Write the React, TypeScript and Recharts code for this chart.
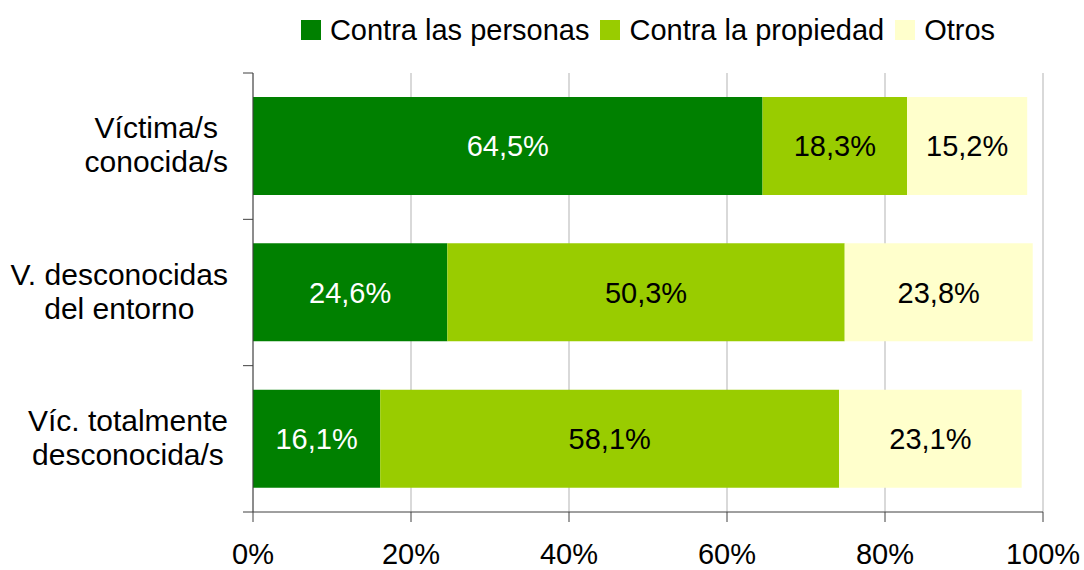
import React from 'react';
import { BarChart, Bar, XAxis, YAxis, CartesianGrid, Legend, LabelList } from 'recharts';

const categories = ["Víctima/s\nconocida/s", "V. desconocidas\ndel entorno", "Víc. totalmente\ndesconocida/s"];
const seriesNames = ["Contra las personas", "Contra la propiedad", "Otros"];
const personas = [64.5, 24.6, 16.1];
const propiedad = [18.3, 50.3, 58.1];
const otros = [15.2, 23.8, 23.1];
const xTicks = [0, 20, 40, 60, 80, 100];

const colors = ["#008000", "#99CC00", "#FFFFCC"];
const labelColors = ["#FFFFFF", "#000000", "#000000"];
const seriesKeys = ["personas", "propiedad", "otros"];

const data = categories.map((c, i) => ({
  name: c,
  personas: personas[i],
  propiedad: propiedad[i],
  otros: otros[i],
}));

const FONT = "'Liberation Sans', Arial, Helvetica, sans-serif";
const AXIS = "#404040";
const GRID = "#c0c0c0";

let ctx: CanvasRenderingContext2D | null = null;
function measure(text: string, font: string): number {
  if (!ctx) ctx = document.createElement('canvas').getContext('2d');
  if (!ctx) return text.length * 15;
  ctx.font = font;
  return ctx.measureText(text).width;
}

const fmt = (v: any) => `${Number(v).toFixed(1).replace('.', ',')}%`;

const YTick = (props: any) => {
  const { x, y, payload, index, visibleTicksCount, height } = props;
  const half =
    payload && payload.offset > 0
      ? payload.offset
      : (height || 439) / (2 * (visibleTicksCount || categories.length));
  const lines = String(payload.value).split('\n');
  const w = Math.max(...lines.map((l) => measure(l, `30px ${FONT}`)));
  const cx = x - 25 - w / 2;
  const isLast = index === (visibleTicksCount || categories.length) - 1;
  return (
    <g>
      <line x1={x - 10} y1={y - half} x2={x} y2={y - half} stroke={AXIS} strokeWidth={1} />
      {isLast && <line x1={x - 10} y1={y + half} x2={x} y2={y + half} stroke={AXIS} strokeWidth={1} />}
      <text x={cx} y={y} textAnchor="middle" fontSize={30} fontFamily={FONT} fill="#000">
        {lines.map((l, i) => (
          <tspan key={i} x={cx} y={y - 8 + i * 34}>{l}</tspan>
        ))}
      </text>
    </g>
  );
};

const LegendContent = () => (
  <div
    style={{
      height: 40,
      display: 'flex',
      justifyContent: 'center',
      alignItems: 'center',
      fontFamily: FONT,
      fontSize: 29,
      lineHeight: '29px',
      color: '#000',
      whiteSpace: 'nowrap',
    }}
  >
    {seriesNames.map((n, i) => (
      <div key={n} style={{ display: 'flex', alignItems: 'center', marginLeft: i ? 11 : 0 }}>
        <span style={{ width: 20, height: 20, background: colors[i], marginRight: 9, display: 'inline-block' }} />
        <span>{n}</span>
      </div>
    ))}
  </div>
);

export default function App() {
  return (
    <div style={{ position: 'fixed', top: 0, left: 0, width: 1084, height: 570, background: '#fff' }}>
      <BarChart
        width={1084}
        height={570}
        data={data}
        layout="vertical"
        margin={{ top: 33, right: 41, bottom: 0, left: 0 }}
        barSize={98}
      >
        <CartesianGrid horizontal={false} stroke={GRID} strokeWidth={1.2} />
        <XAxis
          type="number"
          domain={[0, 100]}
          ticks={xTicks}
          tickFormatter={(v: number) => `${v}%`}
          tickSize={10}
          tickMargin={21}
          height={58}
          axisLine={{ stroke: AXIS }}
          tickLine={{ stroke: AXIS }}
          tick={{ fill: '#000', fontSize: 29, fontFamily: FONT }}
          interval={0}
        />
        <YAxis
          type="category"
          dataKey="name"
          width={253}
          tickSize={0}
          tickMargin={0}
          tickLine={false}
          interval={0}
          axisLine={{ stroke: AXIS }}
          tick={<YTick />}
        />
        <Legend verticalAlign="top" align="center" wrapperStyle={{ top: 10, left: 253, width: 790 }} content={<LegendContent />} />
        {seriesKeys.map((k, i) => (
          <Bar key={k} dataKey={k} name={seriesNames[i]} stackId="s" fill={colors[i]} isAnimationActive={false}>
            <LabelList dataKey={k} position="center" formatter={fmt} fill={labelColors[i]} fontSize={29} fontFamily={FONT} />
          </Bar>
        ))}
      </BarChart>
    </div>
  );
}
